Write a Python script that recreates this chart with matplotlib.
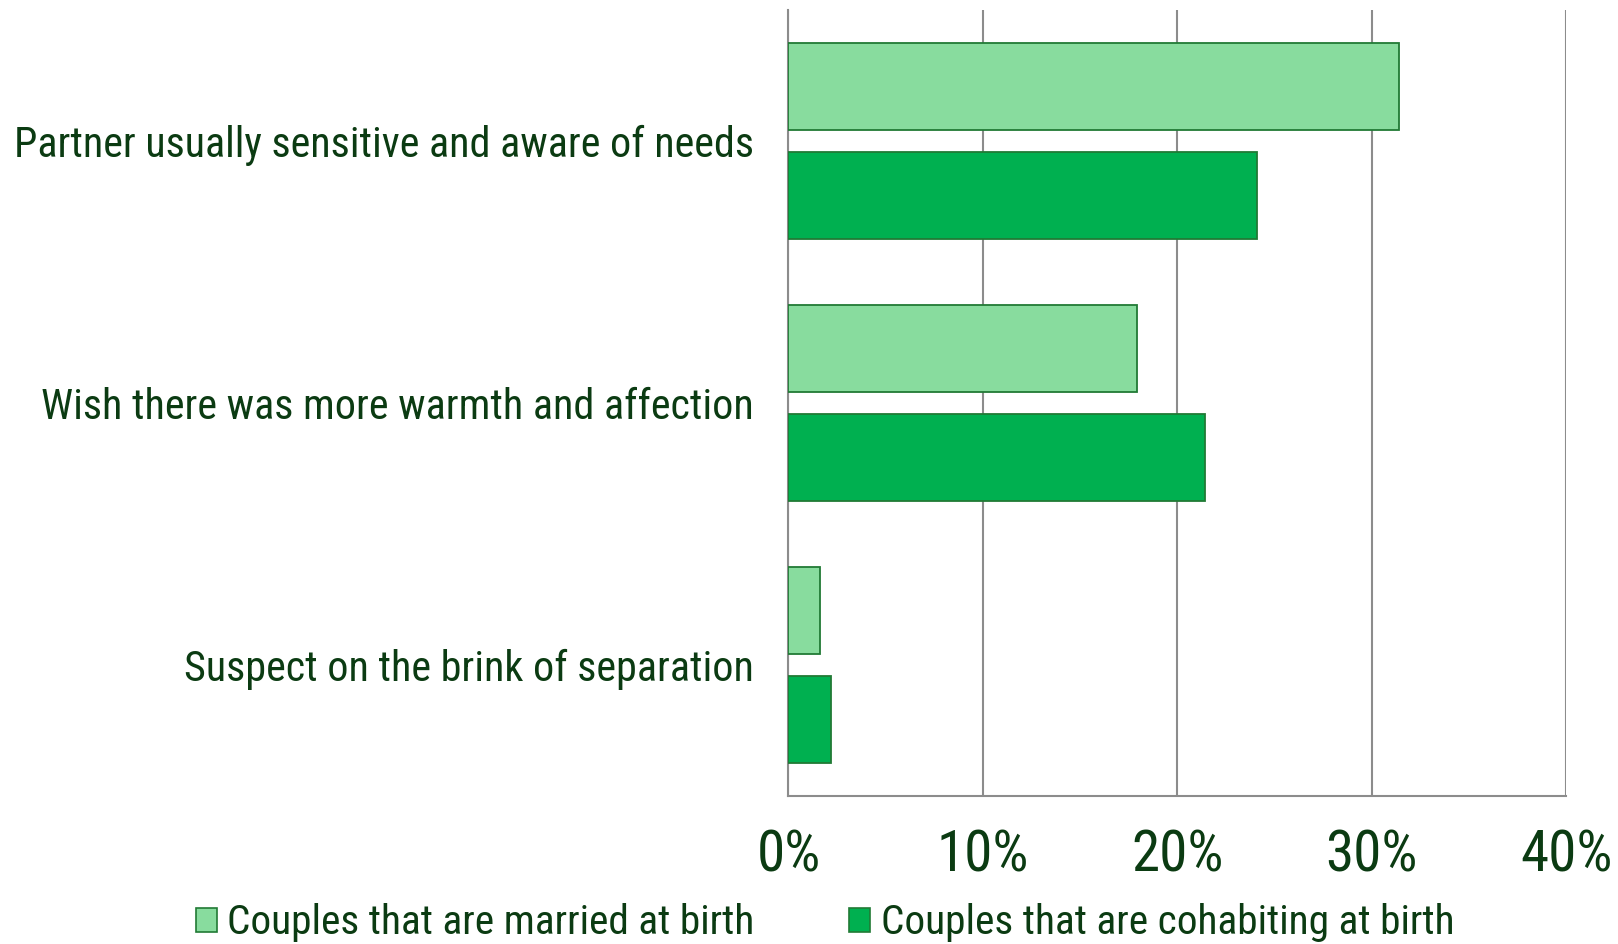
import matplotlib
matplotlib.use("Agg")
import matplotlib.pyplot as plt
from matplotlib.patches import Patch
import numpy as np

categories = ["Partner usually sensitive and aware of needs",
              "Wish there was more warmth and affection",
              "Suspect on the brink of separation"]
married = [31.4, 17.9, 1.6]
cohabiting = [24.1, 21.4, 2.2]
series_names = ["Couples that are married at birth", "Couples that are cohabiting at birth"]
xticks = [0, 10, 20, 30, 40]
xtick_labels = ["0%", "10%", "20%", "30%", "40%"]

FONT = ["Roboto Condensed", "Liberation Sans", "DejaVu Sans"]
TXT = "#0B3B12"
C_MAR = "#88DC9E"
C_COH = "#00B050"
EDGE = "#217A35"
GRID = "#8C8C8C"

plt.rcParams["font.family"] = FONT

fig = plt.figure(figsize=(16.18, 9.44), dpi=100)
ax = fig.add_axes([0.4873, 0.1572, 0.9681 - 0.4873, 0.989 - 0.1572])

y = np.arange(len(categories))
h = 1 / 3
off = h / 2 + 0.0415
ax.barh(y - off, married, height=h, color=C_MAR, edgecolor=EDGE, linewidth=1.3, zorder=3)
ax.barh(y + off, cohabiting, height=h, color=C_COH, edgecolor=EDGE, linewidth=1.3, zorder=3)

ax.set_xlim(0, 40)
ax.set_ylim(2.5, -0.5)
ax.set_xticks(xticks)
ax.set_xticklabels(xtick_labels, fontsize=41, color=TXT)
ax.set_yticks(y)
ax.set_yticklabels(categories, fontsize=30.3, color=TXT)
ax.tick_params(axis="x", length=0, pad=24)
ax.tick_params(axis="y", length=0, pad=25)
ax.grid(axis="x", color=GRID, linewidth=1.5, zorder=0)
for s in ["top", "right"]:
    ax.spines[s].set_visible(False)
for s in ["left", "bottom"]:
    ax.spines[s].set_color(GRID)
    ax.spines[s].set_linewidth(1.5)

handles = [Patch(facecolor=C_MAR, edgecolor=EDGE, linewidth=1.2),
           Patch(facecolor=C_COH, edgecolor=EDGE, linewidth=1.2)]
fig.legend(handles, series_names, loc="center", bbox_to_anchor=(825 / 1618, 1 - 923 / 944),
           ncol=2, frameon=False, fontsize=29.8, labelcolor=TXT,
           handlelength=0.5, handleheight=0.5, handletextpad=0.25, columnspacing=2.3,
           borderaxespad=0, borderpad=0)

fig.savefig("out.png", dpi=100)
